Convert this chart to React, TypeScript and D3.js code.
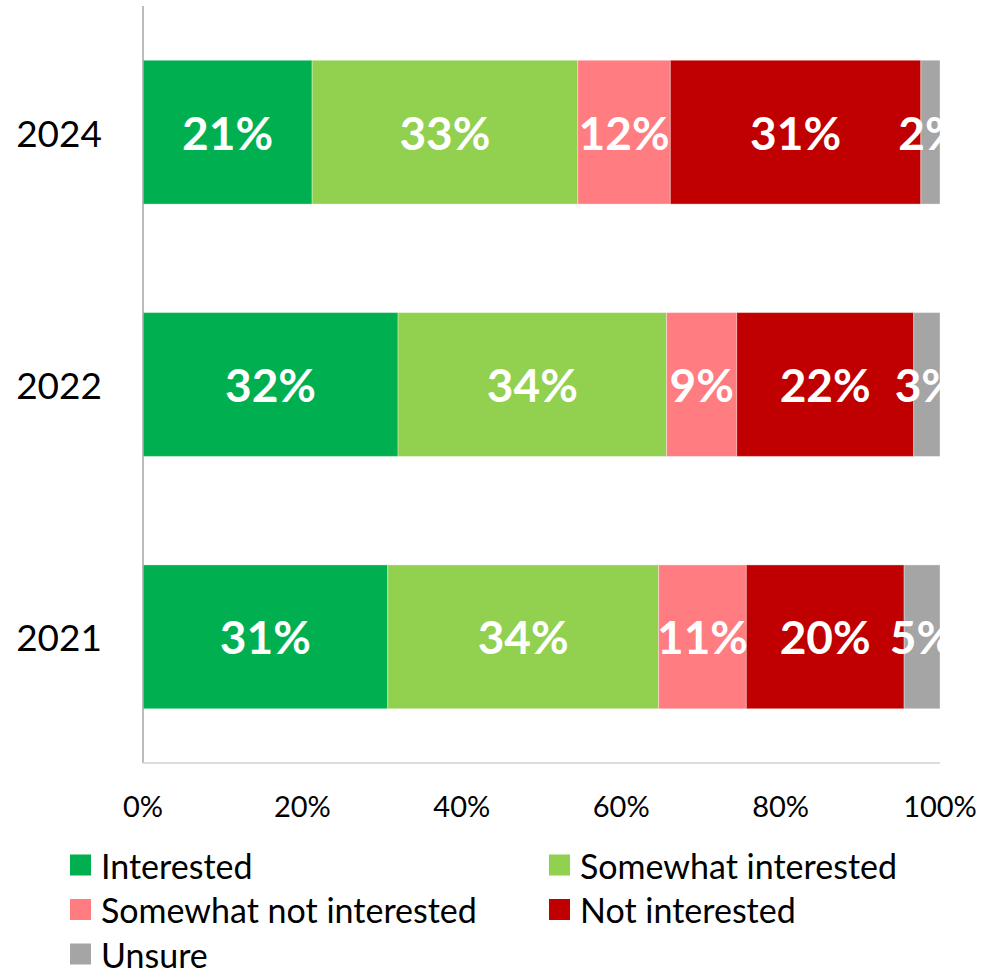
import React from 'react';
import * as d3 from 'd3';

// survey years, top to bottom
const years = ['2024', '2022', '2021'];
const categories = ['Interested', 'Somewhat interested', 'Somewhat not interested', 'Not interested', 'Unsure'];
const colors = ['#00B050', '#92D050', '#FF7C80', '#C00000', '#A5A5A5'];

// shares per year (%)
const interested = [21.2, 32.0, 30.7];
const somewhatInterested = [33.3, 33.7, 34.0];
const somewhatNotInterested = [11.6, 8.8, 11.0];
const notInterested = [31.4, 22.2, 19.8];
const unsure = [2.4, 3.3, 4.5];

const xTicks = [0, 0.2, 0.4, 0.6, 0.8, 1];

const width = 986;
const height = 973;
const margin = { top: 6, right: 46, bottom: 210, left: 143 };
const font = 'Lato, "Open Sans", sans-serif';

export default function App() {
  const rows = years.map((y, i) => ({
    year: y,
    [categories[0]]: interested[i],
    [categories[1]]: somewhatInterested[i],
    [categories[2]]: somewhatNotInterested[i],
    [categories[3]]: notInterested[i],
    [categories[4]]: unsure[i],
  }));

  const series = d3.stack<any>().keys(categories).offset(d3.stackOffsetExpand)(rows);

  const innerW = width - margin.left - margin.right;
  const innerH = height - margin.top - margin.bottom;

  const x = d3.scaleLinear().domain([0, 1]).range([margin.left, margin.left + innerW]);
  const y = d3.scaleBand().domain(years).range([margin.top, margin.top + innerH])
    .paddingInner(0.43).paddingOuter(0.215);
  const color = d3.scaleOrdinal<string>().domain(categories).range(colors);
  const pct = d3.format('.0%');

  const legendX = [70, 549];
  const legendY0 = 865;
  const legendStep = 44.5;

  return (
    <svg width={width} height={height} style={{ position: 'absolute', left: 0, top: 0, background: '#fff' }}>
      <defs>
        <clipPath id="plot">
          <rect x={margin.left} y={margin.top} width={innerW} height={innerH} />
        </clipPath>
      </defs>

      {/* bars */}
      {series.map((s) => (
        <g key={s.key} fill={color(s.key)}>
          {s.map((d: any) => (
            <rect key={d.data.year}
              x={x(d[0])} y={y(d.data.year)}
              width={x(d[1]) - x(d[0])} height={y.bandwidth()}
              stroke="#ffffff" strokeOpacity={0.35} strokeWidth={1} />
          ))}
        </g>
      ))}

      {/* value labels */}
      <g clipPath="url(#plot)">
        {series.map((s) => s.map((d: any) => (
          <text key={s.key + d.data.year}
            x={(x(d[0]) + x(d[1])) / 2} y={y(d.data.year)! + y.bandwidth() / 2}
            textAnchor="middle" dominantBaseline="central"
            fill="#fff" fontWeight="bold" fontSize={46} fontFamily={font}>
            {Math.round(d.data[s.key])}%
          </text>
        )))}
      </g>

      {/* axes */}
      <line x1={margin.left} x2={margin.left} y1={margin.top} y2={margin.top + innerH} stroke="#a6a6a6" strokeWidth={1.5} />
      <line x1={margin.left} x2={margin.left + innerW} y1={margin.top + innerH} y2={margin.top + innerH} stroke="#d0d0d0" strokeWidth={1.5} />

      {xTicks.map((t) => (
        <text key={t} x={x(t)} y={805} textAnchor="middle" dominantBaseline="central"
          fontSize={29} fontFamily={font} fill="#000">{pct(t)}</text>
      ))}

      {years.map((yr) => (
        <text key={yr} x={102} y={y(yr)! + y.bandwidth() / 2} textAnchor="end" dominantBaseline="central"
          fontSize={37} fontFamily={font} fill="#000">{yr}</text>
      ))}

      {/* legend */}
      {categories.map((c, i) => {
        const lx = legendX[i % 2];
        const ly = legendY0 + Math.floor(i / 2) * legendStep;
        return (
          <g key={c}>
            <rect x={lx} y={ly - 10.5} width={21} height={21} fill={color(c)} />
            <text x={lx + 31} y={ly} dominantBaseline="central" fontSize={34} fontFamily={font} fill="#000">{c}</text>
          </g>
        );
      })}
    </svg>
  );
}
